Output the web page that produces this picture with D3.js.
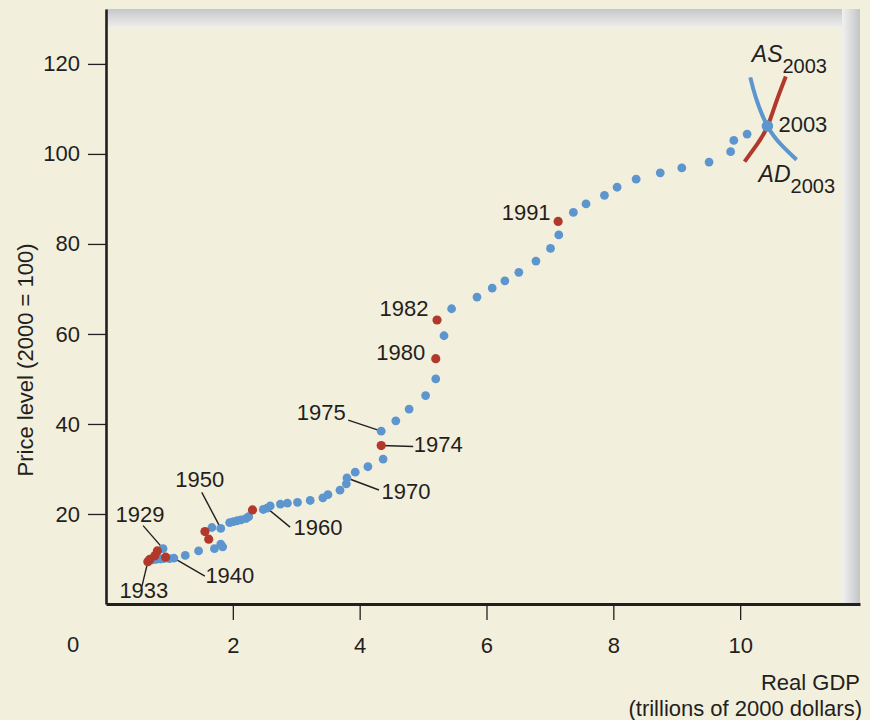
<!DOCTYPE html>
<html>
<head>
<meta charset="utf-8">
<script src="https://cdn.jsdelivr.net/npm/d3@7"></script>
<style>
body { margin: 0; background: #f2efdd; }
svg { display: block; font-family: "Liberation Sans", Arial, sans-serif; }
</style>
</head>
<body>
<svg id="chart" width="870" height="720"></svg>
<script>
// real GDP (trillions of 2000 dollars), one dot per year 1929 - 2002
let gdp = [0.90, 0.81, 0.77, 0.69, 0.66, 0.73, 0.79, 0.86, 0.91, 0.94,
    1.00, 1.07, 1.25, 1.46, 1.71, 1.84, 1.81, 1.62, 1.56, 1.67,
    1.81, 1.95, 2.01, 2.07, 2.13, 2.21, 2.25, 2.31, 2.48, 2.54,
    2.59, 2.75, 2.86, 3.02, 3.22, 3.42, 3.50, 3.69, 3.79, 3.80,
    3.93, 4.13, 4.37, 4.34, 4.34, 4.57, 4.78, 5.04, 5.20, 5.20,
    5.33, 5.22, 5.45, 5.85, 6.09, 6.29, 6.51, 6.78, 7.01, 7.14,
    7.13, 7.37, 7.57, 7.86, 8.06, 8.36, 8.74, 9.08, 9.51, 9.85,
    9.90, 10.11];

// price level (2000 = 100)
let price = [12.3, 11.8, 10.7, 9.9, 9.4, 9.8, 9.9, 10.0, 10.1, 10.4,
    10.1, 10.2, 10.8, 11.8, 12.3, 12.7, 13.3, 14.4, 16.1, 17.0,
    16.8, 18.1, 18.3, 18.5, 18.7, 19.0, 19.4, 20.9, 21.0, 21.3,
    21.8, 22.2, 22.4, 22.6, 23.0, 23.6, 24.3, 25.3, 26.7, 28.0,
    29.3, 30.5, 32.2, 35.2, 38.4, 40.7, 43.3, 46.3, 50.0, 54.5,
    59.6, 63.1, 65.6, 68.2, 70.2, 71.8, 73.7, 76.2, 79.0, 82.0,
    85.0, 87.0, 88.9, 90.8, 92.6, 94.4, 95.8, 96.9, 98.2, 100.5,
    103.0, 104.4];

// 1 = red dot
let recession = [0, 1, 1, 1, 1, 0, 0, 0, 0, 1,
    0, 0, 0, 0, 0, 0, 0, 1, 1, 0,
    0, 0, 0, 0, 0, 0, 0, 1, 0, 0,
    0, 0, 0, 0, 0, 0, 0, 0, 0, 0,
    0, 0, 0, 1, 0, 0, 0, 0, 0, 1,
    0, 1, 0, 0, 0, 0, 0, 0, 0, 0,
    1, 0, 0, 0, 0, 0, 0, 0, 0, 0,
    0, 0];

// 2003 equilibrium and the curves through it
let point2003 = [10.43, 106.2];
let asGdp = [10.07, 10.28, 10.43, 10.57, 10.72];
let asPrice = [98.3, 102.4, 106.1, 111.6, 117.2];
let adGdp = [10.16, 10.25, 10.43, 10.65, 10.89];
let adPrice = [117.0, 112.4, 106.2, 102.0, 98.7];

let xTicks = [2, 4, 6, 8, 10];
let yTicks = [20, 40, 60, 80, 100, 120];

// year labels: index into the arrays above, text offset, leader start offset
let annotations = [
    { text: "1929", at: 0, tx: -23, ty: -27, lx: -20, ly: -23 },
    { text: "1933", at: 4, tx: -4, ty: 36, lx: -6, ly: 25 },
    { text: "1940", at: 11, tx: 56, ty: 25, lx: 31, ly: 18 },
    { text: "1950", at: 20, tx: -21, ty: -41, lx: -19, ly: -36 },
    { text: "1960", at: 29, tx: 51, ty: 27, lx: 23, ly: 19 },
    { text: "1970", at: 39, tx: 59, ty: 21, lx: 32, ly: 12 },
    { text: "1974", at: 43, tx: 57, ty: 6, lx: 32, ly: 1 },
    { text: "1975", at: 44, tx: -60, ty: -11, lx: -33, ly: -11 },
    { text: "1980", at: 49, tx: -35, ty: 1 },
    { text: "1982", at: 51, tx: -33, ty: -4 },
    { text: "1991", at: 60, tx: -32, ty: -1 }
];

let blue = "#5d96cf";
let red = "#b1392b";
let ink = "#231f20";
let bg = "#f2efdd";

let svg = d3.select("#chart");

let xScale = d3.scaleLinear()
    .domain([0, 11.89])
    .range([106, 860]);

let yScale = d3.scaleLinear()
    .domain([0, 132.2])
    .range([604, 9]);

// shaded frame round the plot
let defs = svg.append("defs");
let topGrad = defs.append("linearGradient")
    .attr("id", "topGrad").attr("x1", 0).attr("y1", 0).attr("x2", 0).attr("y2", 1);
topGrad.append("stop").attr("offset", "0%").attr("stop-color", "#c6c7ca");
topGrad.append("stop").attr("offset", "100%").attr("stop-color", "#efefed");
let sideGrad = defs.append("linearGradient")
    .attr("id", "sideGrad").attr("x1", 0).attr("y1", 0).attr("x2", 1).attr("y2", 0);
sideGrad.append("stop").attr("offset", "0%").attr("stop-color", "#f1f1ef");
sideGrad.append("stop").attr("offset", "100%").attr("stop-color", "#c2c4c7");

let x0 = xScale(0), x1 = xScale.range()[1];
let y0 = yScale(0), y1 = yScale.range()[1];

svg.append("rect")
    .attr("x", x0).attr("y", y1)
    .attr("width", x1 - x0).attr("height", 19)
    .attr("fill", "url(#topGrad)");
svg.append("rect")
    .attr("x", x1 - 18).attr("y", y1)
    .attr("width", 18).attr("height", y0 - y1)
    .attr("fill", "url(#sideGrad)");

// inner panel, rounded at the top right
let ix1 = x1 - 18, iy = y1 + 19, r = 9;
svg.append("path")
    .attr("d", "M" + x0 + "," + y0 + "V" + iy + "H" + (ix1 - r) +
        "A" + r + "," + r + " 0 0 1 " + ix1 + "," + (iy + r) + "V" + y0 + "Z")
    .attr("fill", bg);

// axes
let yAxis = svg.append("g")
    .attr("transform", "translate(" + x0 + ",0)")
    .call(d3.axisLeft(yScale).tickValues(yTicks).tickSize(18).tickPadding(8).tickSizeOuter(0));
yAxis.select(".domain").attr("stroke", ink).attr("stroke-width", 2.6);
yAxis.selectAll(".tick line").attr("stroke", ink).attr("stroke-width", 1.3);
yAxis.selectAll("text")
    .style("font-family", "Liberation Sans, Arial, sans-serif")
    .style("font-size", "22px")
    .attr("fill", ink);

let xAxis = svg.append("g")
    .attr("transform", "translate(0," + y0 + ")")
    .call(d3.axisBottom(xScale).tickValues(xTicks).tickSize(16).tickPadding(17).tickSizeOuter(0));
xAxis.select(".domain").attr("stroke", ink).attr("stroke-width", 2.8);
xAxis.selectAll(".tick line").attr("stroke", ink).attr("stroke-width", 1.3);
xAxis.selectAll("text")
    .style("font-family", "Liberation Sans, Arial, sans-serif")
    .style("font-size", "22px")
    .attr("fill", ink);

// origin label sits apart from the axis
svg.append("text")
    .attr("x", x0 - 33).attr("y", y0 + 48)
    .attr("text-anchor", "middle")
    .style("font-size", "22px")
    .attr("fill", ink)
    .text("0");

// axis titles
svg.append("text")
    .attr("x", 860).attr("y", 690)
    .attr("text-anchor", "end")
    .style("font-size", "22px").attr("fill", ink)
    .text("Real GDP");
svg.append("text")
    .attr("x", 862).attr("y", 716)
    .attr("text-anchor", "end")
    .style("font-size", "22px").attr("fill", ink)
    .text("(trillions of 2000 dollars)");
svg.append("text")
    .attr("transform", "translate(33,360) rotate(-90)")
    .attr("text-anchor", "middle")
    .style("font-size", "22px").attr("fill", ink)
    .text("Price level (2000 = 100)");

// AS and AD curves
let line = d3.line()
    .x(d => xScale(d[0]))
    .y(d => yScale(d[1]))
    .curve(d3.curveNatural);
let asPts = d3.zip(asGdp, asPrice);
let adPts = d3.zip(adGdp, adPrice);
svg.append("path")
    .attr("d", line(asPts))
    .attr("fill", "none").attr("stroke", red).attr("stroke-width", 4);
svg.append("path")
    .attr("d", line(adPts))
    .attr("fill", "none").attr("stroke", blue).attr("stroke-width", 4);

function curveLabel(main, sub, px, py) {
    let t = svg.append("text")
        .attr("x", px).attr("y", py)
        .attr("fill", ink);
    t.append("tspan").style("font-size", "23px").style("font-style", "italic").text(main);
    t.append("tspan").attr("dy", 11).style("font-size", "20px").text(sub);
}
let asTop = asPts[asPts.length - 1];
let adEnd = adPts[adPts.length - 1];
curveLabel("AS", "2003", xScale(asTop[0]) - 34, yScale(asTop[1]) - 15);
curveLabel("AD", "2003", xScale(adEnd[0]) - 38, yScale(adEnd[1]) + 22);

// leader lines for the year labels
annotations.forEach(function(a) {
    let cx = xScale(gdp[a.at]);
    let cy = yScale(price[a.at]);
    if (a.lx !== undefined) {
        svg.append("line")
            .attr("x1", cx + a.lx).attr("y1", cy + a.ly)
            .attr("x2", cx).attr("y2", cy)
            .attr("stroke", ink).attr("stroke-width", 1.4);
    }
    svg.append("text")
        .attr("x", cx + a.tx).attr("y", cy + a.ty)
        .attr("text-anchor", "middle")
        .style("font-size", "22px")
        .attr("fill", ink)
        .text(a.text);
});

// dots: blue first, red on top
let idx = d3.range(gdp.length);
svg.selectAll(".blueDots")
    .data(idx.filter(i => !recession[i]))
    .enter()
    .append("circle")
    .attr("cx", i => xScale(gdp[i]))
    .attr("cy", i => yScale(price[i]))
    .attr("r", 4.4)
    .attr("fill", blue);
svg.selectAll(".redDots")
    .data(idx.filter(i => recession[i]))
    .enter()
    .append("circle")
    .attr("cx", i => xScale(gdp[i]))
    .attr("cy", i => yScale(price[i]))
    .attr("r", 4.6)
    .attr("fill", red);

// 2003 point
svg.append("circle")
    .attr("cx", xScale(point2003[0]))
    .attr("cy", yScale(point2003[1]))
    .attr("r", 5.8)
    .attr("fill", blue);
svg.append("text")
    .attr("x", xScale(point2003[0]) + 11)
    .attr("y", yScale(point2003[1]) + 6)
    .style("font-size", "22px")
    .attr("fill", ink)
    .text("2003");
</script>
</body>
</html>
